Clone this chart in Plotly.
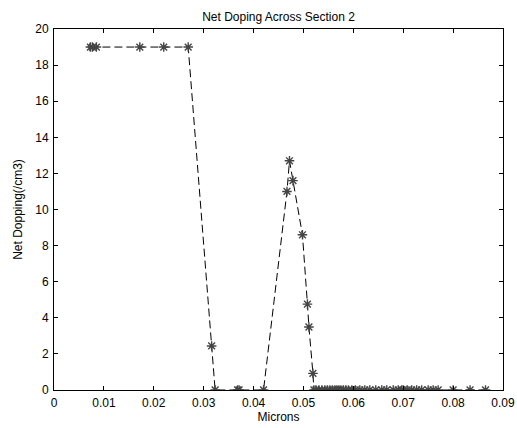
import plotly.graph_objects as go

microns = [0.0073, 0.0077, 0.0085, 0.0172, 0.0220, 0.0269, 0.0316, 0.0323,
           0.0368, 0.0371, 0.0420,
           0.0467, 0.0472, 0.0479, 0.0498, 0.0508, 0.0511, 0.0519, 0.0521,
           0.0525, 0.0531, 0.0537, 0.0543, 0.0548, 0.0553, 0.0558, 0.0563, 0.0567,
           0.0571, 0.0575, 0.0580, 0.0585, 0.0590, 0.0597, 0.0604,
           0.0613, 0.0623, 0.0633, 0.0645, 0.0657, 0.0667, 0.0680, 0.0690, 0.0697,
           0.0700, 0.0708, 0.0717, 0.0727, 0.0737, 0.0750, 0.0760, 0.0770, 0.0800,
           0.0834, 0.0865]
doping = [19, 19, 19, 19, 19, 19, 2.44, 0,
          0, 0, 0,
          11.0, 12.7, 11.6, 8.6, 4.76, 3.49, 0.92, 0,
          0, 0, 0, 0, 0, 0, 0, 0, 0,
          0, 0, 0, 0, 0, 0, 0,
          0, 0, 0, 0, 0, 0, 0, 0, 0,
          0, 0, 0, 0, 0, 0, 0, 0, 0,
          0, 0]

x_ticks = [0, 0.01, 0.02, 0.03, 0.04, 0.05, 0.06, 0.07, 0.08, 0.09]
x_labels = ["0", "0.01", "0.02", "0.03", "0.04", "0.05", "0.06", "0.07", "0.08", "0.09"]
y_ticks = [0, 2, 4, 6, 8, 10, 12, 14, 16, 18, 20]

fig = go.Figure()
fig.add_trace(go.Scatter(
    x=microns, y=doping, mode="lines+markers",
    line=dict(color="black", width=1, dash="8px,4px"),
    marker=dict(symbol="asterisk-open", size=8, color="#444444",
                line=dict(color="#444444", width=1.4)),
    showlegend=False,
))

font = dict(family="Liberation Sans, Arial, sans-serif", size=12, color="black")
fig.update_layout(
    width=517, height=428,
    margin=dict(l=54, r=14, t=29, b=38),
    paper_bgcolor="white", plot_bgcolor="white",
    font=font,
    title=dict(text="Net Doping Across Section 2", x=0.5, xref="paper",
               y=1, yref="paper", yanchor="bottom", pad=dict(b=8),
               font=dict(family="Liberation Sans, Arial, sans-serif", size=12, color="black")),
)
fig.update_xaxes(
    range=[0, 0.09], tickvals=x_ticks, ticktext=x_labels, automargin=False,
    ticks="inside", ticklen=4, tickcolor="black", ticklabelstandoff=2,
    showline=True, linecolor="black", linewidth=1, mirror="ticks",
    showgrid=False, zeroline=False,
    title=dict(text="Microns", standoff=3, font=font),
)
fig.update_yaxes(
    range=[0, 20], tickvals=y_ticks, automargin=False,
    ticks="inside", ticklen=4, tickcolor="black", ticklabelstandoff=2,
    showline=True, linecolor="black", linewidth=1, mirror="ticks",
    showgrid=False, zeroline=False,
    title=dict(text="Net Dopping(/cm3)", standoff=10, font=font),
)

fig.write_html("out.html")
